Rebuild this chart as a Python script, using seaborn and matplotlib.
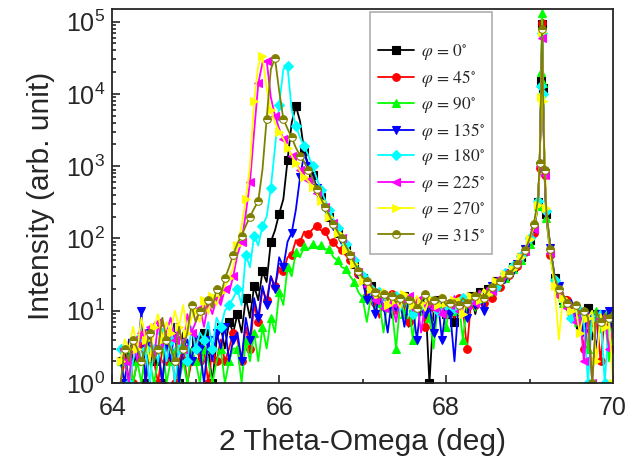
#Imports
import numpy as np
import matplotlib
matplotlib.use("Agg")
import matplotlib.pyplot as plt
import seaborn as sns

# Scan positions (2theta, deg): 0.05 step plus a few extra points on the sharp peak
two_theta = np.round(np.arange(64.10, 70.0001, 0.05), 2)
two_theta = np.sort(np.append(two_theta, [69.12, 69.14, 69.16, 69.18]))

# Intensities, split as
# 64.10-65.45 | 65.50-66.95 | 67.00-69.05 | 69.10-69.20 | 69.25-70.00
int_0 = ([2, 3, 1, 3, 2, 4, 1, 3, 2, 3, 1, 4, 2, 3, 1, 5, 2, 3, 4, 2, 5, 3, 1, 4, 6, 3, 7, 5]
         + [9, 5, 15, 8, 22, 14, 35, 25, 90, 130, 220, 350, 1200, 4000, 6800, 4200, 1600, 1050, 750, 520,
            370, 270, 200, 150, 118, 92, 72, 56, 44, 34]
         + [28, 18, 22, 12, 17, 10, 15, 8, 14, 11, 16, 6, 13, 9, 12, 16, 1, 10, 14, 12, 9, 13, 7, 15, 11,
            12, 16, 9, 18, 14, 20, 17, 26, 22, 30, 28, 40, 36, 55, 65, 95, 130]
         + [320, 1000, 15000, 92000, 12000, 800, 220]
         + [70, 28, 18, 14, 15, 10, 12, 6, 10, 11, 4, 9, 10, 8, 6, 9])

int_45 = ([1, 2, 3, 1, 2, 4, 1, 3, 2, 1, 3, 2, 4, 1, 2, 3, 1, 2, 4, 2, 3, 1, 3, 2, 4, 2, 3, 5]
          + [4, 2, 6, 3, 12, 7, 20, 14, 30, 22, 40, 35, 55, 60, 95, 90, 125, 115, 135, 150,
             130, 125, 95, 90, 75, 70, 58, 50, 40, 32]
          + [25, 16, 19, 13, 8, 15, 12, 17, 9, 14, 11, 7, 13, 12, 15, 6, 13, 11, 14, 12, 10, 13, 8, 15, 11,
             3, 14, 12, 16, 13, 18, 15, 24, 21, 28, 31, 36, 42, 52, 66, 88, 120]
          + [300, 950, 14000, 95000, 11000, 750, 200]
          + [60, 25, 17, 12, 14, 9, 11, 8, 3, 10, 7, 9, 2, 8, 6, 7])

int_90 = ([2, 1, 3, 1, 2, 1, 3, 2, 1, 2, 4, 1, 2, 3, 1, 2, 1, 3, 2, 1, 3, 2, 1, 2, 3, 1, 2, 3]
          + [3, 1, 4, 2, 5, 2, 6, 3, 8, 5, 18, 12, 40, 30, 65, 55, 78, 70, 85, 75,
             80, 70, 72, 55, 50, 40, 38, 30, 25, 18]
          + [15, 7, 16, 10, 13, 5, 14, 11, 3, 13, 9, 15, 4, 12, 10, 14, 8, 3, 12, 11, 6, 13, 10, 14, 4,
             12, 15, 10, 17, 13, 19, 16, 22, 25, 28, 30, 38, 41, 50, 62, 85, 125]
          + [280, 900, 20000, 130000, 14000, 700, 190]
          + [55, 24, 15, 13, 10, 12, 6, 9, 11, 3, 8, 10, 5, 9, 2, 6])

int_135 = ([2, 1, 4, 3, 2, 10, 1, 5, 2, 3, 1, 4, 2, 6, 1, 3, 4, 2, 5, 3, 1, 4, 2, 5, 3, 6, 2, 4]
           + [5, 2, 8, 4, 15, 8, 22, 12, 30, 20, 55, 40, 90, 120, 250, 700, 1500, 1000, 720, 500,
              360, 265, 200, 150, 115, 90, 70, 55, 42, 32]
           + [26, 14, 20, 9, 16, 12, 5, 14, 10, 13, 6, 14, 11, 4, 13, 9, 12, 5, 14, 4, 12, 9, 2, 13, 14,
              8, 15, 12, 17, 10, 19, 22, 18, 26, 24, 33, 30, 44, 50, 72, 85, 140]
           + [300, 1000, 12000, 62000, 9000, 800, 230]
           + [75, 30, 22, 16, 12, 14, 9, 11, 5, 10, 8, 3, 9, 7, 10, 5])

int_180 = ([3, 2, 1, 2, 4, 2, 3, 1, 3, 2, 5, 2, 4, 1, 3, 4, 2, 6, 3, 5, 4, 7, 3, 8, 6, 10, 12, 15]
           + [20, 12, 60, 40, 110, 80, 150, 200, 500, 1800, 7000, 22000, 24000, 6000, 3600, 2500, 1900, 1400, 1000, 680,
              470, 340, 250, 185, 140, 110, 85, 65, 50, 38]
           + [30, 25, 20, 16, 18, 13, 15, 12, 16, 10, 14, 13, 9, 15, 12, 11, 14, 13, 10, 16, 12, 14, 11, 9, 15,
              13, 14, 17, 15, 19, 18, 24, 21, 27, 33, 30, 42, 48, 58, 72, 100, 150]
           + [330, 1100, 13000, 70000, 10000, 850, 240]
           + [68, 27, 19, 14, 13, 8, 12, 10, 7, 1, 9, 8, 10, 1, 7, 8])

int_225 = ([3, 2, 1, 4, 2, 5, 3, 6, 2, 7, 3, 5, 8, 4, 6, 3, 9, 5, 7, 11, 6, 13, 9, 15, 12, 20, 18, 30]
           + [60, 90, 220, 600, 3000, 14000, 27000, 29000, 9000, 5000, 3300, 2400, 1800, 1400, 1100, 900, 750, 640, 530, 430,
              340, 270, 210, 165, 125, 100, 75, 58, 44, 34]
           + [27, 22, 18, 14, 19, 11, 16, 13, 7, 15, 12, 16, 10, 14, 5, 13, 15, 11, 12, 9, 14, 12, 16, 10, 13,
              12, 15, 13, 19, 16, 21, 19, 25, 28, 26, 36, 40, 46, 60, 68, 92, 135]
           + [310, 1000, 12000, 60000, 9000, 750, 210]
           + [62, 26, 16, 13, 11, 13, 7, 10, 2, 9, 1, 8, 7, 9, 3, 6])

int_270 = ([2, 4, 3, 6, 3, 8, 4, 2, 6, 9, 4, 7, 5, 10, 6, 12, 5, 8, 10, 7, 14, 9, 16, 12, 18, 22, 28, 40]
           + [80, 150, 350, 1000, 8000, 25000, 33000, 12000, 6000, 4000, 3000, 2400, 1800, 1400, 1100, 850, 700, 620, 520, 420,
              330, 260, 200, 160, 120, 95, 70, 55, 45, 32]
           + [26, 24, 20, 15, 17, 20, 12, 18, 14, 11, 17, 14, 12, 16, 13, 10, 15, 14, 12, 17, 13, 11, 14, 15, 9,
              14, 16, 18, 14, 20, 17, 23, 26, 24, 32, 35, 38, 50, 56, 75, 98, 145]
           + [290, 1200, 9000, 72000, 8000, 1300, 260]
           + [58, 22, 4, 15, 12, 10, 11, 5, 9, 8, 10, 2, 9, 6, 8, 1])

int_315 = ([1, 3, 2, 4, 3, 2, 3, 5, 2, 3, 8, 4, 3, 2, 6, 3, 5, 12, 7, 10, 9, 14, 11, 20, 16, 28, 40, 60]
           + [85, 110, 150, 200, 260, 330, 900, 4500, 22000, 31000, 11000, 4500, 3300, 2500, 1800, 1400, 1150, 900, 680, 480,
              360, 270, 210, 160, 125, 100, 78, 60, 46, 36]
           + [29, 26, 22, 18, 15, 17, 14, 16, 13, 15, 12, 14, 15, 11, 13, 17, 12, 14, 13, 15, 12, 13, 14, 12, 15,
              13, 14, 16, 17, 15, 19, 21, 23, 26, 29, 32, 37, 44, 54, 70, 100, 160]
           + [340, 1100, 14000, 78000, 11000, 900, 250]
           + [72, 29, 20, 17, 13, 11, 12, 9, 10, 8, 1, 10, 7, 9, 8, 10])

angles = [0, 45, 90, 135, 180, 225, 270, 315]
series = [int_0, int_45, int_90, int_135, int_180, int_225, int_270, int_315]
colors = ["#000000", "#ff0000", "#00ff00", "#0000ff", "#00ffff", "#ff00ff", "#ffff00", "#808000"]
markers = ["s", "o", "^", "v", "D", "<", ">", "o"]

#Style
sns.set_style("ticks")
plt.rcParams["font.family"] = ["Liberation Sans", "DejaVu Sans"]
plt.rcParams["mathtext.fontset"] = "stix"

fig = plt.figure(figsize=(6.34, 4.70), dpi=100)
ax = fig.add_axes([0.177, 0.185, 0.790, 0.796])

for k, (ang, vals) in enumerate(zip(angles, series)):
    vals = np.array(vals, dtype=float)
    marks = sorted(set(range(k % 2, len(vals), 2)) | {int(np.argmax(vals))})
    extra = {}
    if k == 7:
        extra = dict(fillstyle="top", markerfacecoloralt="white")
    sns.lineplot(
        x=two_theta,
        y=vals,
        ax=ax,
        color=colors[k],
        marker=markers[k],
        markersize=5.5 if markers[k] != "D" else 5,
        markeredgecolor=colors[k],
        markeredgewidth=0.8,
        markevery=marks,
        linewidth=1.3,
        label=rf"$\varphi\,=\,{ang}^{{\circ}}$",
        **extra
    )

ax.set_yscale("log")
ax.set_xlim(64, 70)
ax.set_ylim(1, 1.5e5)
ax.set_xticks([64, 66, 68, 70])
ax.set_xticks([65, 67, 69], minor=True)
ax.tick_params(axis="both", which="both", direction="in", labelsize=18, width=1.2)
ax.tick_params(axis="x", which="major", pad=9)
ax.tick_params(axis="y", which="major", pad=5)
ax.tick_params(axis="both", which="major", length=6)
ax.tick_params(axis="both", which="minor", length=3)
for sp in ax.spines.values():
    sp.set_linewidth(1.3)

ax.set_xlabel("2 Theta-Omega (deg)", fontsize=21.5, labelpad=6)
ax.set_ylabel("Intensity (arb. unit)", fontsize=21.5, labelpad=8)

leg = ax.legend(
    loc="upper left",
    bbox_to_anchor=(0.515, 0.992),
    borderaxespad=0,
    title=" ",
    title_fontsize=14,
    fontsize=12.5,
    frameon=True,
    fancybox=False,
    edgecolor="#999999",
    handlelength=2.1,
    handletextpad=0.35,
    labelspacing=0.33,
    borderpad=0.45,
)
leg.get_frame().set_linewidth(1.2)

#Save Plot
plt.savefig("out.png", dpi=100)
